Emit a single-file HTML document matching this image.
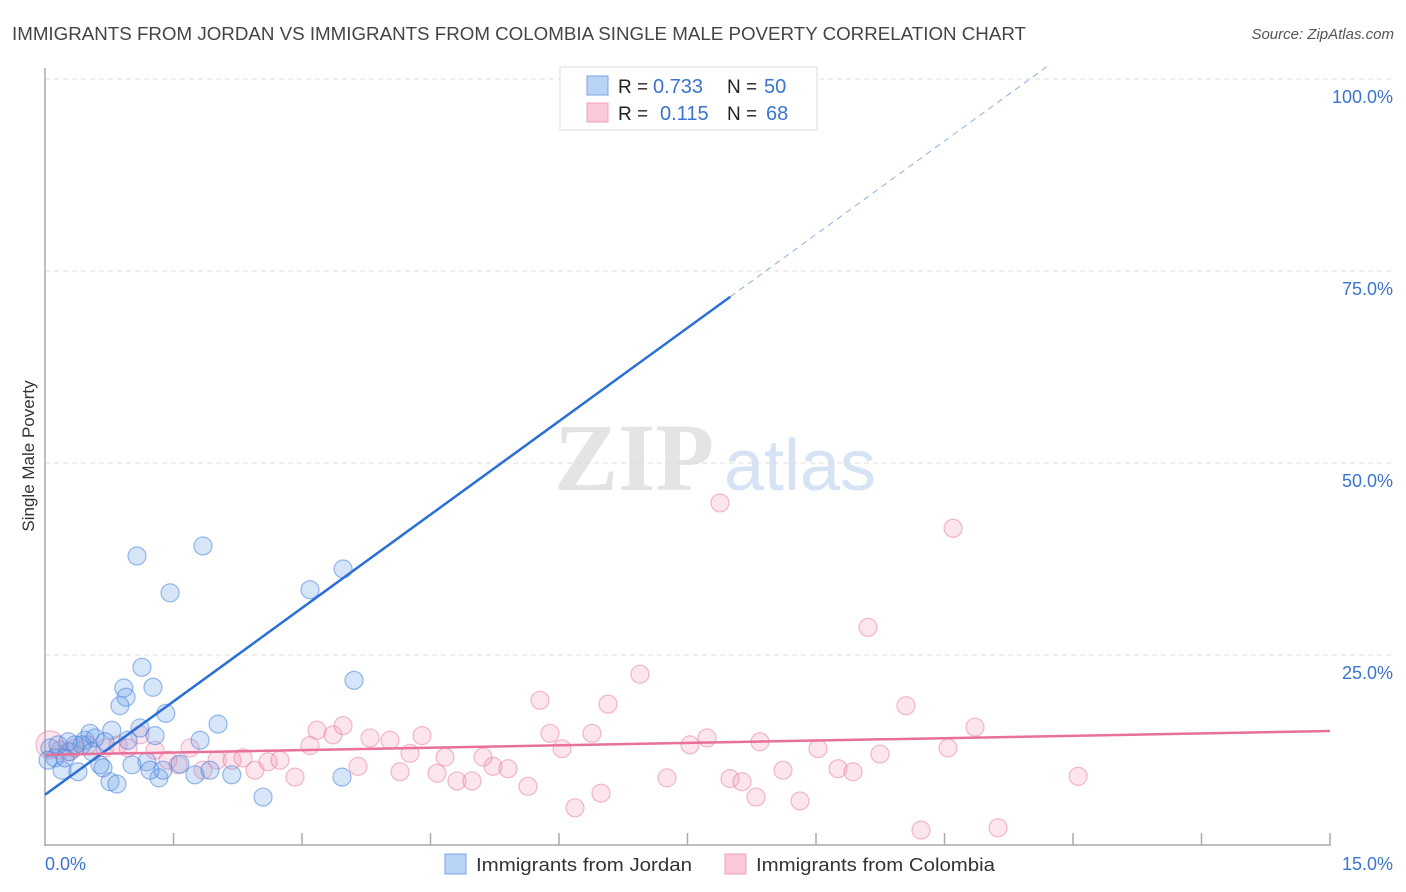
<!DOCTYPE html>
<html><head><meta charset="utf-8">
<style>
body{margin:0;background:#fff;font-family:"Liberation Sans",sans-serif;}
svg{display:block}
</style></head>
<body>
<svg id="chart" width="1406" height="892" xmlns="http://www.w3.org/2000/svg">
<text x="12" y="40" font-size="18" fill="#444" textLength="1014" lengthAdjust="spacingAndGlyphs" font-family="Liberation Sans, sans-serif">IMMIGRANTS FROM JORDAN VS IMMIGRANTS FROM COLOMBIA SINGLE MALE POVERTY CORRELATION CHART</text>
<text x="1394" y="39" font-size="15" fill="#555" text-anchor="end" font-style="italic">Source: ZipAtlas.com</text>
<g>
<text x="634" y="490" font-size="96" fill="#e4e4e4" text-anchor="middle" font-family="Liberation Serif, serif" font-weight="bold">ZIP</text>
<text x="800" y="490" font-size="72" fill="#d5e3f5" text-anchor="middle">atlas</text>
</g>
<g id="grid"></g>
<g id="axes"></g>
<g id="pts"></g>
<g id="trends"></g>
<text transform="translate(34,456) rotate(-90)" font-size="17" fill="#333" text-anchor="middle">Single Male Poverty</text>
<g>
<rect x="560" y="67" width="257" height="63" fill="#fff" stroke="#ddd"/>
<rect x="587" y="76" width="21" height="19" fill="#b8d3f5" stroke="#7aa6e0"/>
<rect x="587" y="103" width="21" height="19" fill="#fac8d8" stroke="#f0a0b8"/>
<text x="618" y="93" font-size="19" fill="#222">R =</text>
<text x="653" y="93" font-size="20" fill="#3a74d0">0.733</text>
<text x="727" y="93" font-size="19" fill="#222">N =</text>
<text x="764" y="93" font-size="20" fill="#3a74d0">50</text>
<text x="618" y="120" font-size="19" fill="#222">R =</text>
<text x="660" y="120" font-size="20" fill="#3a74d0">0.115</text>
<text x="727" y="120" font-size="19" fill="#222">N =</text>
<text x="766" y="120" font-size="20" fill="#3a74d0">68</text>
</g>
<g>
<rect x="445" y="854" width="21" height="20" fill="#b8d3f5" stroke="#7aa6e0"/>
<text x="476" y="871" font-size="18" fill="#333" textLength="216" lengthAdjust="spacingAndGlyphs">Immigrants from Jordan</text>
<rect x="725" y="854" width="21" height="20" fill="#fac8d8" stroke="#f0a0b8"/>
<text x="756" y="871" font-size="18" fill="#333" textLength="239" lengthAdjust="spacingAndGlyphs">Immigrants from Colombia</text>
</g>
</svg>
<script>
const xTicks=[0,1.5,3,4.5,6,7.5,9,10.5,12,13.5,15];
const yTicks=[25,50,75,100];
const yTickLabels=["25.0%","50.0%","75.0%","100.0%"];
const xEndLabels=["0.0%","15.0%"];
const jordanX=[.058,.117,.198,.29,.385,.467,.525,.584,.642,.677,.759,.84,.78,.875,.92,.946,1.074,1.132,1.109,1.19,1.26,1.284,1.33,1.377,1.41,1.46,1.576,1.75,1.81,1.844,1.926,2.02,2.18,2.545,3.093,3.48,3.467,3.607,1.016,1.226,.152,.233,.432,.70,.035,.35,.549,.969,7.70,.27];
const jordanY=[12.9,11.6,10.0,12.4,9.8,13.9,14.8,14.2,10.7,10.3,8.5,8.2,15.2,18.4,20.7,19.5,37.9,23.4,15.5,11.1,20.8,14.5,9.0,10.0,17.4,33.1,10.8,9.4,13.9,39.2,10.0,16.0,9.4,6.5,33.5,36.2,9.1,21.7,10.7,10.0,13.3,11.6,13.3,13.7,11.3,13.3,12.4,13.9,99.9,13.7];
const colX=[.058,.175,.268,.35,.502,.70,.852,.969,1.109,1.284,1.436,1.553,1.693,1.844,2.008,2.183,2.311,2.451,2.603,2.743,2.918,3.093,3.175,3.362,3.479,3.654,3.794,4.027,4.144,4.261,4.401,4.576,4.669,4.809,4.984,5.113,5.23,5.405,5.638,5.778,5.895,6.035,6.187,6.385,6.49,6.572,6.945,7.26,7.529,7.728,7.879,7.996,8.136,8.30,8.346,8.615,8.813,9.023,9.257,9.432,9.607,9.747,10.05,10.226,10.541,10.6,10.856,11.125,12.06];
const colY=[13.3,12.6,12.4,12.9,13.3,12.9,13.3,12.9,14.6,12.6,11.3,10.7,12.9,10.0,11.3,11.3,11.6,10.0,11.1,11.3,9.1,13.2,15.2,14.6,15.8,10.5,14.2,13.9,9.8,12.2,14.5,9.6,11.7,8.6,8.6,11.7,10.5,10.2,7.9,19.1,14.8,12.8,5.1,14.8,7.0,18.6,22.5,9.0,13.3,14.2,44.8,8.9,8.5,6.5,13.7,10.0,6.0,12.8,10.2,9.8,28.6,12.1,18.4,2.2,12.9,41.5,15.6,2.5,9.2];
const jordanTrend=[6.8,128.4];
const colTrend=[12.0,15.1];
const NS="http://www.w3.org/2000/svg";
const X=v=>45+v/15*1285, Y=v=>847-v/100*768;
function mk(t,a,p){const e=document.createElementNS(NS,t);for(const k in a)e.setAttribute(k,a[k]);p.appendChild(e);return e;}
const grid=document.getElementById('grid'),axes=document.getElementById('axes'),pts=document.getElementById('pts'),tr=document.getElementById('trends');
yTicks.forEach((v,i)=>{
 const l=mk('line',{x1:45,x2:1394,y1:Y(v),y2:Y(v),stroke:'#ddd','stroke-dasharray':'5,4'},grid);
 
 
 const t=mk('text',{x:1393,y:Y(v)+24,'font-size':18,fill:'#3a74d0','text-anchor':'end'},axes);
 t.textContent=yTickLabels[i];
 
 
});
mk('line',{x1:45,x2:45,y1:68,y2:846,stroke:'#aaa','stroke-width':1.5},axes);
mk('line',{x1:44,x2:1331,y1:845,y2:845,stroke:'#aaa','stroke-width':1.5},axes);
xTicks.forEach((v,i)=>{if(i>0){const l=mk('line',{x1:X(v),x2:X(v),y1:833,y2:845,stroke:'#aaa','stroke-width':1.5},axes);
 
 }});
const t0=mk('text',{x:45,y:870,'font-size':18,fill:'#3a74d0'},axes);t0.textContent=xEndLabels[0];


const t1=mk('text',{x:1393,y:870,'font-size':18,fill:'#3a74d0','text-anchor':'end'},axes);t1.textContent=xEndLabels[1];


colX.forEach((x,i)=>{const c=mk('circle',{cx:X(x),cy:Y(colY[i]),r:i==0?14:9,fill:'rgba(244,150,180,0.25)',stroke:'rgba(232,120,160,0.5)','stroke-width':1.2},pts);
 
 });
jordanX.forEach((x,i)=>{const c=mk('circle',{cx:X(x),cy:Y(jordanY[i]),r:9,fill:'rgba(110,160,230,0.28)',stroke:'rgba(70,130,220,0.55)','stroke-width':1.2},pts);
 
 });
const by=x=>jordanTrend[0]+(jordanTrend[1]-jordanTrend[0])*x/15;
const xs=8.0, xe=(100+1.7-jordanTrend[0])/(jordanTrend[1]-jordanTrend[0])*15;
const b1=mk('line',{x1:X(0),y1:Y(by(0)),x2:X(xs),y2:Y(by(xs)),stroke:'#2a6fd6','stroke-width':2.5},tr);


const b2=mk('line',{x1:X(xs),y1:Y(by(xs)),x2:X(xe),y2:Y(by(xe)),stroke:'#8ab0e0','stroke-width':1,'stroke-dasharray':'6,5'},tr);


const p1=mk('line',{x1:X(0),y1:Y(colTrend[0]),x2:X(15),y2:Y(colTrend[1]),stroke:'#e8709a','stroke-width':2.5},tr);


</script>
</body></html>
